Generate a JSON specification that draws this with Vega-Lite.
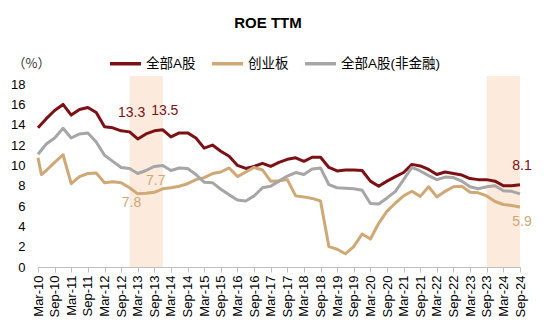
{
  "$schema": "https://vega.github.io/schema/vega-lite/v6.json",
  "autosize": "none",
  "width": 482,
  "height": 191,
  "padding": {"left": 38, "top": 76, "right": 30, "bottom": 65},
  "background": "white",
  "title": {"text": "ROE TTM", "anchor": "middle", "dx": -11, "offset": 15, "fontSize": 15, "fontWeight": "bold", "color": "#000000", "font": "Liberation Sans, Arial, sans-serif"},
  "config": {
    "view": {"stroke": null},
    "font": "Liberation Sans, Noto Sans CJK SC, sans-serif",
    "axis": {"labelFont": "Liberation Sans, Noto Sans CJK SC, sans-serif", "labelColor": "#000000", "grid": false, "labelOverlap": false}
  },
  "encoding": {
    "x": {
      "field": "d", "type": "temporal",
      "scale": {"type": "utc", "domain": [{"year": 2010, "month": 3, "date": 31, "utc": true}, {"year": 2024, "month": 9, "date": 30, "utc": true}]},
      "axis": {
        "title": null,
        "format": "%b-%y",
        "values": [
          {"year": 2010, "month": 3, "date": 31, "utc": true}, {"year": 2010, "month": 9, "date": 30, "utc": true},
          {"year": 2011, "month": 3, "date": 31, "utc": true}, {"year": 2011, "month": 9, "date": 30, "utc": true},
          {"year": 2012, "month": 3, "date": 31, "utc": true}, {"year": 2012, "month": 9, "date": 30, "utc": true},
          {"year": 2013, "month": 3, "date": 31, "utc": true}, {"year": 2013, "month": 9, "date": 30, "utc": true},
          {"year": 2014, "month": 3, "date": 31, "utc": true}, {"year": 2014, "month": 9, "date": 30, "utc": true},
          {"year": 2015, "month": 3, "date": 31, "utc": true}, {"year": 2015, "month": 9, "date": 30, "utc": true},
          {"year": 2016, "month": 3, "date": 31, "utc": true}, {"year": 2016, "month": 9, "date": 30, "utc": true},
          {"year": 2017, "month": 3, "date": 31, "utc": true}, {"year": 2017, "month": 9, "date": 30, "utc": true},
          {"year": 2018, "month": 3, "date": 31, "utc": true}, {"year": 2018, "month": 9, "date": 30, "utc": true},
          {"year": 2019, "month": 3, "date": 31, "utc": true}, {"year": 2019, "month": 9, "date": 30, "utc": true},
          {"year": 2020, "month": 3, "date": 31, "utc": true}, {"year": 2020, "month": 9, "date": 30, "utc": true},
          {"year": 2021, "month": 3, "date": 31, "utc": true}, {"year": 2021, "month": 9, "date": 30, "utc": true},
          {"year": 2022, "month": 3, "date": 31, "utc": true}, {"year": 2022, "month": 9, "date": 30, "utc": true},
          {"year": 2023, "month": 3, "date": 31, "utc": true}, {"year": 2023, "month": 9, "date": 30, "utc": true},
          {"year": 2024, "month": 3, "date": 31, "utc": true}, {"year": 2024, "month": 9, "date": 30, "utc": true}
        ],
        "labelAngle": 270,
        "labelAlign": "right",
        "labelBaseline": "middle",
        "labelFontSize": 13,
        "labelPadding": 3,
        "labelOverlap": false,
        "labelFlush": false,
        "domainColor": "#BFBFBF",
        "tickColor": "#BFBFBF",
        "tickSize": 5
      }
    }
  },
  "layer": [
    {
      "data": {"values": [
        {"d": "2012-12-31", "d2": "2013-12-31"},
        {"d": "2023-09-30", "d2": "2024-09-30"}
      ]},
      "mark": {"type": "rect", "color": "#FCEBDD"},
      "encoding": {
        "x2": {"field": "d2"}
      }
    },
    {
      "data": {"values": [
        {"d": "2010-03-31", "全部A股": 13.7, "创业板": 10.75, "全部A股(非金融)": 11.1},
        {"d": "2010-05-07", "创业板": 9.1},
        {"d": "2010-06-30", "全部A股": 14.6, "创业板": 9.5, "全部A股(非金融)": 12.1},
        {"d": "2010-09-30", "全部A股": 15.4, "创业板": 10.3, "全部A股(非金融)": 12.7},
        {"d": "2010-12-31", "全部A股": 16.0, "创业板": 11.05, "全部A股(非金融)": 13.65},
        {"d": "2011-03-31", "全部A股": 14.95, "创业板": 8.2, "全部A股(非金融)": 12.7},
        {"d": "2011-06-30", "全部A股": 15.5, "创业板": 8.9, "全部A股(非金融)": 13.1},
        {"d": "2011-09-30", "全部A股": 15.7, "创业板": 9.2, "全部A股(非金融)": 13.2},
        {"d": "2011-12-31", "全部A股": 15.2, "创业板": 9.25, "全部A股(非金融)": 12.3},
        {"d": "2012-03-31", "全部A股": 13.8, "创业板": 8.3, "全部A股(非金融)": 11.0},
        {"d": "2012-06-30", "全部A股": 13.7, "创业板": 8.4, "全部A股(非金融)": 10.4},
        {"d": "2012-09-30", "全部A股": 13.4, "创业板": 8.3, "全部A股(非金融)": 9.8},
        {"d": "2012-12-31", "全部A股": 13.3, "创业板": 7.8, "全部A股(非金融)": 9.7},
        {"d": "2013-03-31", "全部A股": 12.6, "创业板": 7.2, "全部A股(非金融)": 9.2},
        {"d": "2013-06-30", "全部A股": 13.1, "创业板": 7.25, "全部A股(非金融)": 9.5},
        {"d": "2013-09-30", "全部A股": 13.4, "创业板": 7.35, "全部A股(非金融)": 9.9},
        {"d": "2013-12-31", "全部A股": 13.5, "创业板": 7.7, "全部A股(非金融)": 10.0},
        {"d": "2014-03-31", "全部A股": 12.8, "创业板": 7.8, "全部A股(非金融)": 9.5},
        {"d": "2014-06-30", "全部A股": 13.2, "创业板": 7.95, "全部A股(非金融)": 9.75},
        {"d": "2014-09-30", "全部A股": 13.2, "创业板": 8.2, "全部A股(非金融)": 9.7},
        {"d": "2014-12-31", "全部A股": 12.7, "创业板": 8.6, "全部A股(非金融)": 9.1},
        {"d": "2015-03-31", "全部A股": 11.7, "创业板": 8.8, "全部A股(非金融)": 8.35},
        {"d": "2015-06-30", "全部A股": 12.0, "创业板": 9.2, "全部A股(非金融)": 8.3},
        {"d": "2015-09-30", "全部A股": 11.4, "创业板": 9.35, "全部A股(非金融)": 7.65},
        {"d": "2015-12-31", "全部A股": 10.9, "创业板": 9.75, "全部A股(非金融)": 7.1},
        {"d": "2016-03-31", "全部A股": 10.0, "创业板": 8.9, "全部A股(非金融)": 6.6},
        {"d": "2016-06-30", "全部A股": 9.7, "创业板": 9.35, "全部A股(非金融)": 6.5},
        {"d": "2016-09-30", "全部A股": 9.9, "创业板": 9.8, "全部A股(非金融)": 7.0},
        {"d": "2016-12-31", "全部A股": 10.2, "创业板": 9.55, "全部A股(非金融)": 7.8},
        {"d": "2017-03-31", "全部A股": 9.9, "创业板": 8.45, "全部A股(非金融)": 7.95},
        {"d": "2017-06-30", "全部A股": 10.3, "创业板": 8.5, "全部A股(非金融)": 8.45},
        {"d": "2017-09-30", "全部A股": 10.6, "创业板": 8.6, "全部A股(非金融)": 8.95},
        {"d": "2017-12-31", "全部A股": 10.75, "创业板": 7.0, "全部A股(非金融)": 9.3},
        {"d": "2018-03-31", "全部A股": 10.4, "创业板": 6.9, "全部A股(非金融)": 9.1},
        {"d": "2018-06-30", "全部A股": 10.8, "创业板": 6.75, "全部A股(非金融)": 9.65},
        {"d": "2018-09-30", "全部A股": 10.8, "创业板": 6.5, "全部A股(非金融)": 9.75},
        {"d": "2018-12-31", "全部A股": 9.8, "创业板": 2.0, "全部A股(非金融)": 8.1},
        {"d": "2019-03-31", "全部A股": 9.45, "创业板": 1.75, "全部A股(非金融)": 7.8},
        {"d": "2019-06-30", "全部A股": 9.55, "创业板": 1.3, "全部A股(非金融)": 7.75},
        {"d": "2019-09-30", "全部A股": 9.55, "创业板": 2.0, "全部A股(非金融)": 7.7},
        {"d": "2019-12-31", "全部A股": 9.5, "创业板": 3.25, "全部A股(非金融)": 7.55},
        {"d": "2020-03-31", "全部A股": 8.45, "创业板": 2.75, "全部A股(非金融)": 6.25},
        {"d": "2020-06-30", "全部A股": 7.95, "创业板": 4.3, "全部A股(非金融)": 6.2},
        {"d": "2020-09-30", "全部A股": 8.45, "创业板": 5.5, "全部A股(非金融)": 6.8},
        {"d": "2020-12-31", "全部A股": 8.9, "创业板": 6.3, "全部A股(非金融)": 7.45},
        {"d": "2021-03-31", "全部A股": 9.3, "创业板": 7.0, "全部A股(非金融)": 8.6},
        {"d": "2021-06-30", "全部A股": 10.1, "创业板": 7.45, "全部A股(非金融)": 9.8},
        {"d": "2021-09-30", "全部A股": 9.95, "创业板": 6.95, "全部A股(非金融)": 9.45},
        {"d": "2021-12-31", "全部A股": 9.6, "创业板": 7.9, "全部A股(非金融)": 9.0},
        {"d": "2022-03-31", "全部A股": 9.1, "创业板": 6.9, "全部A股(非金融)": 8.6},
        {"d": "2022-06-30", "全部A股": 9.35, "创业板": 7.45, "全部A股(非金融)": 8.85},
        {"d": "2022-09-30", "全部A股": 9.2, "创业板": 7.9, "全部A股(非金融)": 8.8},
        {"d": "2022-12-31", "全部A股": 9.05, "创业板": 7.95, "全部A股(非金融)": 8.45},
        {"d": "2023-03-31", "全部A股": 8.7, "创业板": 7.35, "全部A股(非金融)": 7.9},
        {"d": "2023-06-30", "全部A股": 8.6, "创业板": 7.3, "全部A股(非金融)": 7.7},
        {"d": "2023-09-30", "全部A股": 8.6, "创业板": 7.0, "全部A股(非金融)": 7.9},
        {"d": "2023-12-31", "全部A股": 8.45, "创业板": 6.45, "全部A股(非金融)": 8.0},
        {"d": "2024-03-31", "全部A股": 8.0, "创业板": 6.15, "全部A股(非金融)": 7.5},
        {"d": "2024-06-30", "全部A股": 8.0, "创业板": 6.05, "全部A股(非金融)": 7.45},
        {"d": "2024-09-30", "全部A股": 8.1, "创业板": 5.9, "全部A股(非金融)": 7.2}
      ]},
      "transform": [
        {"fold": ["全部A股", "创业板", "全部A股(非金融)"], "as": ["series", "value"]},
        {"filter": {"field": "value", "valid": true}}
      ],
      "mark": {"type": "line", "strokeWidth": 3, "strokeJoin": "round"},
      "encoding": {
        "y": {
          "field": "value", "type": "quantitative",
          "scale": {"domain": [0, 18.8], "nice": false, "zero": true},
          "axis": {
            "values": [0, 2, 4, 6, 8, 10, 12, 14, 16, 18],
            "labelOverlap": false,
            "domain": false,
            "ticks": false,
            "labelFontSize": 13,
            "labelPadding": 13,
            "title": "（%）",
            "titleAngle": 0,
            "titleAlign": "left",
            "titleBaseline": "alphabetic",
            "titleX": -26,
            "titleY": -9,
            "titleFontSize": 13,
            "titleFontWeight": "normal",
            "titleColor": "#333333",
            "titleFont": "Noto Sans CJK SC, sans-serif"
          }
        },
        "color": {
          "field": "series", "type": "nominal",
          "scale": {"domain": ["全部A股", "创业板", "全部A股(非金融)"], "range": ["#7B1114", "#CFA876", "#A6A6A6"]},
          "legend": {
            "title": null,
            "orient": "none",
            "direction": "horizontal",
            "legendX": 70,
            "legendY": -30,
            "symbolType": "stroke",
            "symbolSize": 961,
            "symbolStrokeWidth": 3.5,
            "labelFontSize": 13.5,
            "labelColor": "#000000",
            "labelFont": "Liberation Sans, Noto Sans CJK SC, sans-serif",
            "labelOffset": 3,
            "columnPadding": 9
          }
        }
      }
    },
    {
      "data": {"values": [
        {"d": "2012-12-31", "value": 13.3},
        {"d": "2013-12-31", "value": 13.5},
        {"d": "2024-09-30", "value": 8.1}
      ]},
      "mark": {"type": "text", "color": "#7B1114", "fontSize": 14, "dy": -19, "dx": 2, "baseline": "middle", "font": "Liberation Sans, Arial, sans-serif"},
      "encoding": {
        "y": {"field": "value", "type": "quantitative", "axis": {"values": [0, 2, 4, 6, 8, 10, 12, 14, 16, 18], "labelOverlap": false, "domain": false, "ticks": false, "labelFontSize": 13, "labelPadding": 13, "title": "（%）"}},
        "text": {"field": "value", "type": "quantitative", "format": ".1f"}
      }
    },
    {
      "data": {"values": [
        {"d": "2012-12-31", "value": 7.8},
        {"d": "2024-09-30", "value": 5.9}
      ]},
      "mark": {"type": "text", "color": "#CFA876", "fontSize": 14, "dy": 15, "dx": 2, "baseline": "middle", "font": "Liberation Sans, Arial, sans-serif"},
      "encoding": {
        "y": {"field": "value", "type": "quantitative", "axis": {"values": [0, 2, 4, 6, 8, 10, 12, 14, 16, 18], "labelOverlap": false, "domain": false, "ticks": false, "labelFontSize": 13, "labelPadding": 13, "title": "（%）"}},
        "text": {"field": "value", "type": "quantitative", "format": ".1f"}
      }
    },
    {
      "data": {"values": [
        {"d": "2013-12-31", "value": 7.7}
      ]},
      "mark": {"type": "text", "color": "#CFA876", "fontSize": 14, "dy": -8, "dx": -7, "baseline": "middle", "font": "Liberation Sans, Arial, sans-serif"},
      "encoding": {
        "y": {"field": "value", "type": "quantitative", "axis": {"values": [0, 2, 4, 6, 8, 10, 12, 14, 16, 18], "labelOverlap": false, "domain": false, "ticks": false, "labelFontSize": 13, "labelPadding": 13, "title": "（%）"}},
        "text": {"field": "value", "type": "quantitative", "format": ".1f"}
      }
    }
  ]
}
